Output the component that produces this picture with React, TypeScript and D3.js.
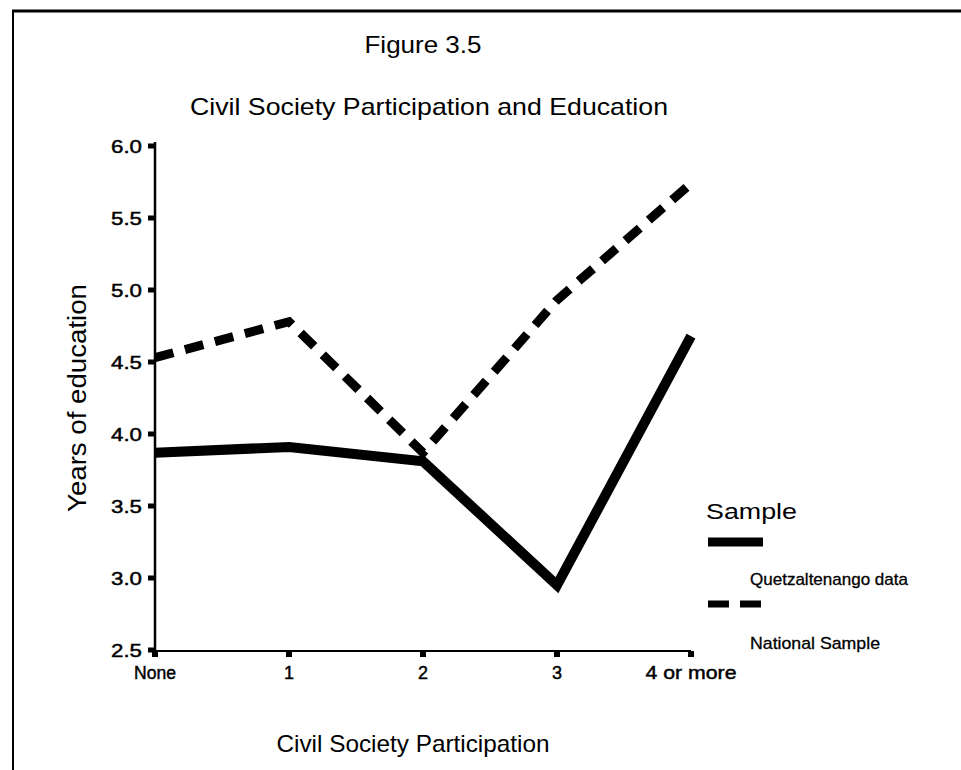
import React from "react";
import * as d3 from "d3";

const categories = ["None", "1", "2", "3", "4 or more"];
const quetzaltenango = [3.87, 3.91, 3.81, 2.95, 4.68];
const national = [4.53, 4.78, 3.87, 4.93, 5.74];
const yTicks = [2.5, 3.0, 3.5, 4.0, 4.5, 5.0, 5.5, 6.0];
const seriesNames = ["Quetzaltenango data", "National Sample"];

const W = 961;
const H = 770;
const FONT = "'Liberation Sans', Arial, Helvetica, sans-serif";

export default function App() {
  const x = d3.scalePoint<string>().domain(categories).range([155, 691]);
  const y = d3.scaleLinear().domain([2.5, 6.0]).range([650, 146]);
  const line = d3
    .line<number>()
    .x((_, i) => x(categories[i]) as number)
    .y((d) => y(d));

  return (
    <svg
      width={W}
      height={H}
      style={{ position: "absolute", left: 0, top: 0, background: "#fff" }}
      fontFamily={FONT}
    >
      <rect x={0} y={0} width={W} height={H} fill="#fff" />
      {/* frame */}
      <line x1={12} y1={11} x2={W} y2={11} stroke="#000" strokeWidth={3} />
      <line x1={13} y1={10} x2={13} y2={H} stroke="#000" strokeWidth={2} />

      {/* titles */}
      <text x={423} y={53} textAnchor="middle" fontSize={24} textLength={117} lengthAdjust="spacingAndGlyphs">
        Figure 3.5
      </text>
      <text x={429} y={115} textAnchor="middle" fontSize={24} textLength={478} lengthAdjust="spacingAndGlyphs">
        Civil Society Participation and Education
      </text>

      {/* axes */}
      <line x1={155} y1={y(6.0) - 4} x2={155} y2={652} stroke="#000" strokeWidth={2.5} />
      <line x1={154} y1={651} x2={691} y2={651} stroke="#000" strokeWidth={2.2} />
      {yTicks.map((t) => (
        <g key={t}>
          <rect x={148} y={y(t) - 2.5} width={7} height={5} fill="#000" />
          <text
            x={142}
            y={y(t) + 7}
            textAnchor="end"
            fontSize={18}
            stroke="#000"
            strokeWidth={0.45}
            textLength={31}
            lengthAdjust="spacingAndGlyphs"
          >
            {t.toFixed(1)}
          </text>
        </g>
      ))}
      {categories.map((c) => (
        <g key={c}>
          <rect x={(x(c) as number) - 3} y={651} width={6} height={6} fill="#000" />
          <text
            x={x(c) as number}
            y={679}
            textAnchor="middle"
            fontSize={18}
            stroke="#000"
            strokeWidth={0.45}
            textLength={c === "4 or more" ? 91 : c === "None" ? 42 : undefined}
            lengthAdjust="spacingAndGlyphs"
          >
            {c}
          </text>
        </g>
      ))}

      {/* axis titles */}
      <text
        transform={`translate(86,398) rotate(-90)`}
        textAnchor="middle"
        fontSize={25}
        textLength={228}
        lengthAdjust="spacingAndGlyphs"
      >
        Years of education
      </text>
      <text x={413} y={752} textAnchor="middle" fontSize={24} textLength={273} lengthAdjust="spacingAndGlyphs">
        Civil Society Participation
      </text>

      {/* series */}
      <path
        d={line(national) as string}
        fill="none"
        stroke="#000"
        strokeWidth={9}
        strokeDasharray="19 12"
      />
      <path
        d={line(quetzaltenango) as string}
        fill="none"
        stroke="#000"
        strokeWidth={10}
        strokeLinejoin="miter"
      />

      {/* legend */}
      <text x={706} y={519} fontSize={22} textLength={91} lengthAdjust="spacingAndGlyphs">
        Sample
      </text>
      <line x1={708} y1={542} x2={763} y2={542} stroke="#000" strokeWidth={9} />
      <text x={750} y={585} fontSize={17} stroke="#000" strokeWidth={0.3} textLength={158} lengthAdjust="spacingAndGlyphs">
        {seriesNames[0]}
      </text>
      <line x1={708} y1={604} x2={762} y2={604} stroke="#000" strokeWidth={7} strokeDasharray="21 11" />
      <text x={750} y={649} fontSize={17} stroke="#000" strokeWidth={0.3} textLength={130} lengthAdjust="spacingAndGlyphs">
        {seriesNames[1]}
      </text>
    </svg>
  );
}
